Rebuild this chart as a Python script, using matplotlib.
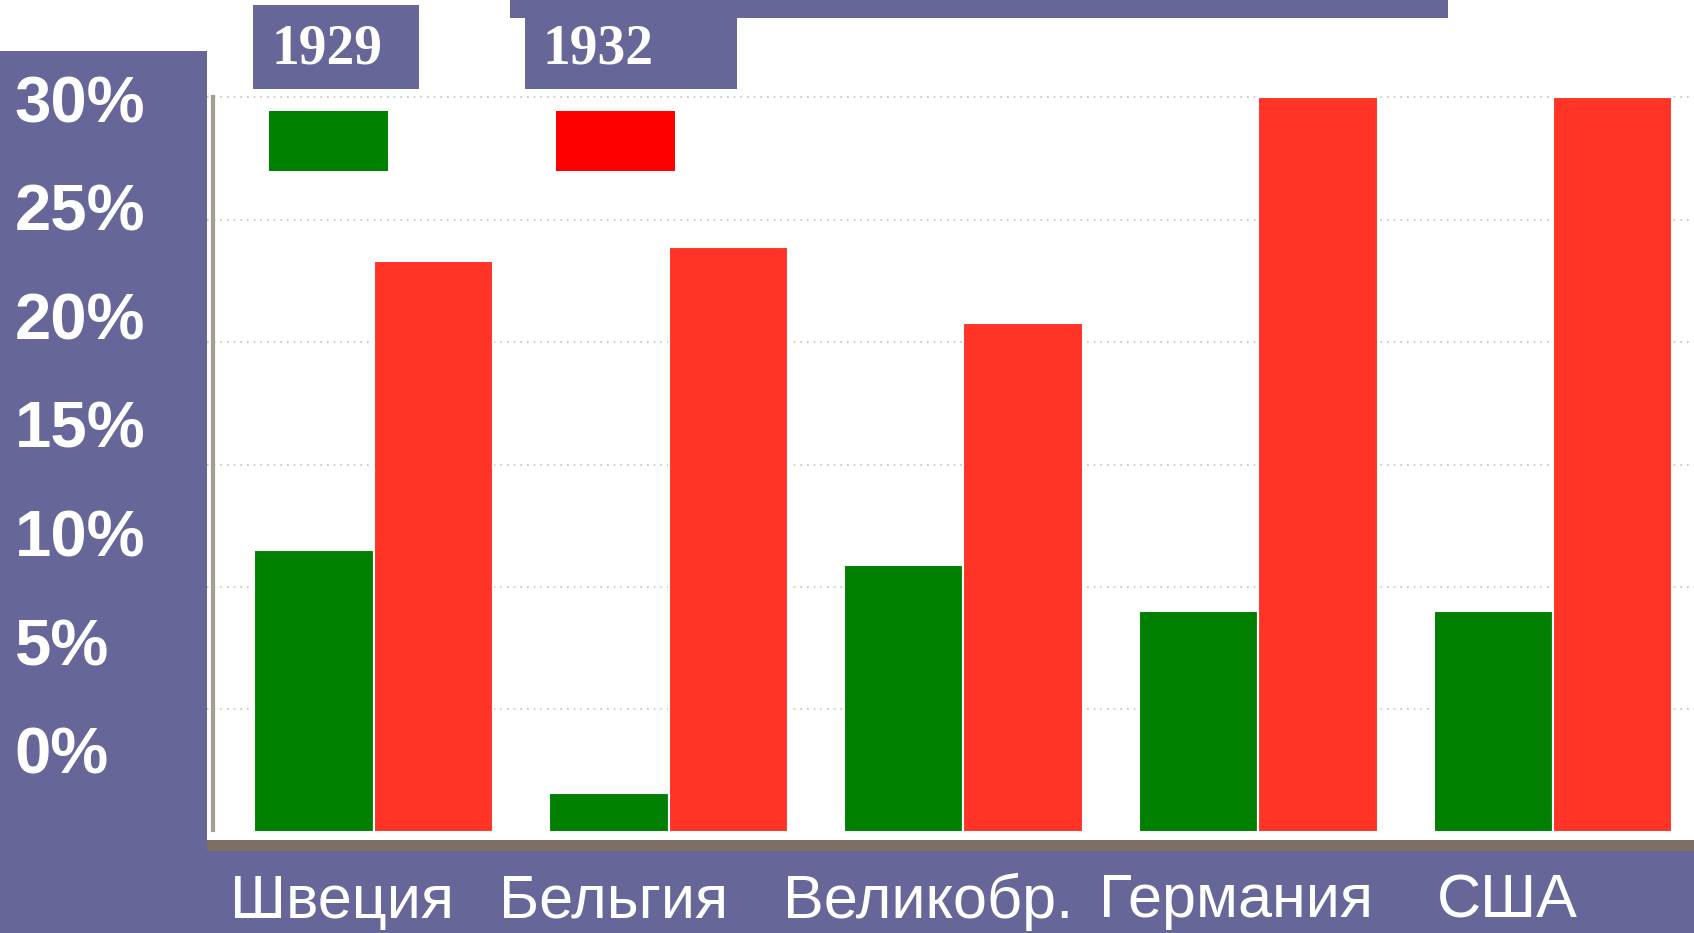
import matplotlib.pyplot as plt
import numpy as np
from matplotlib.patches import Rectangle

# Unemployment, % of workforce
countries = ["Швеция", "Бельгия", "Великобр.", "Германия", "США"]
years = ["1929", "1932"]
rate_1929 = [11.5, 1.6, 10.9, 9.0, 9.0]
rate_1932 = [23.3, 23.9, 20.8, 30.0, 30.0]
y_ticks = [0, 5, 10, 15, 20, 25, 30]

W, H = 1694, 933
purple = "#666699"
green = "#007f00"
red = "#ff3326"

fig = plt.figure(figsize=(W / 100, H / 100), dpi=100, facecolor="white")


def px_rect(x0, y0, x1, y1):
    # pixel box (top-left origin) -> figure fraction rect
    return [x0 / W, 1 - y1 / H, (x1 - x0) / W, (y1 - y0) / H]


def add_box(x0, y0, x1, y1, color, z=-1):
    fig.patches.append(Rectangle((x0 / W, 1 - y1 / H), (x1 - x0) / W, (y1 - y0) / H,
                                 transform=fig.transFigure, facecolor=color,
                                 edgecolor="none", zorder=z))


# purple slide panels
add_box(0, 51, 207, H, purple)
add_box(207, 851, W, H, purple)
add_box(207, 840, W, 851, "#7d6f62")
add_box(510, 0, 1448, 18, purple, z=1)
add_box(253, 5, 419, 89, purple, z=1)
add_box(525, 0, 737, 89, purple, z=1)

# bars
ax = fig.add_axes(px_rect(207, 86, W, 838))
ax.set_facecolor("white")
x = np.arange(len(countries))
w = 0.405
ax.bar(x - w / 2, rate_1929, w, color=green, edgecolor="white", linewidth=1.5, zorder=3)
ax.bar(x + w / 2, rate_1932, w, color=red, edgecolor="white", linewidth=1.5, zorder=3)
ax.set_xlim(-0.566, 4.478)
ax.set_ylim(-0.25, 30.46)
for v in y_ticks[1:]:
    ax.axhline(v, color="#c9c2ba", linestyle=(0, (1, 3)), linewidth=1.2, zorder=1)
ax.axvline(-0.545, ymin=0.01, ymax=0.985, color="#a89c90", linewidth=3, zorder=1)
ax.set_xticks([])
ax.set_yticks([])
for s in ax.spines.values():
    s.set_visible(False)

# y labels (placed on the slide, not aligned to the bars)
lab = fig.add_axes(px_rect(0, 51, 207, H))
lab.set_ylim(-(H - 757) / 21.72, 30 + (105 - 51) / 21.72)
lab.set_xlim(0, 1)
lab.axis("off")
for v in y_ticks:
    lab.text(0.07, v, f"{v}%", color="white", fontsize=47, fontweight="bold",
             family="Liberation Sans", ha="left", va="center")

# legend
add_box(269, 111, 388, 171, "#008000", z=2)
add_box(556, 111, 675, 171, "#ff0000", z=2)
for yr, xp in zip(years, [271, 542]):
    fig.text(xp / W, 1 - 50 / H, yr, color="white", fontsize=40, fontweight="bold",
             family="Liberation Serif", ha="left", va="center")

# country labels
label_x = [342, 614, 928, 1236, 1507]
for name, xp in zip(countries, label_x):
    fig.text(xp / W, 1 - 902 / H, name, color="white", fontsize=44,
             family="Liberation Sans", ha="center", va="center")

fig.savefig("out.png", dpi=100, facecolor="white")
